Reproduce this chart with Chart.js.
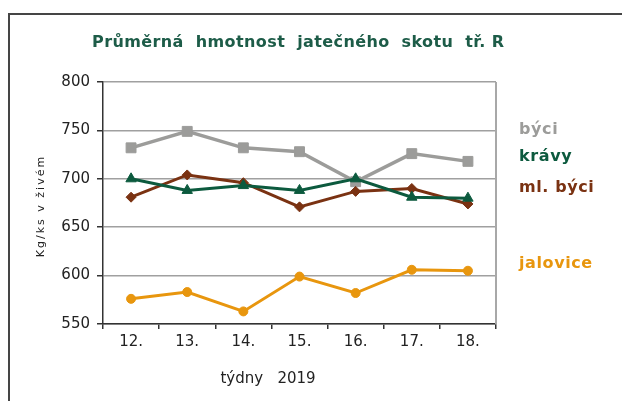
<!DOCTYPE html>
<html><head><meta charset="utf-8">
<script src="https://cdn.jsdelivr.net/npm/chart.js@4"></script>
<style>html,body{margin:0;padding:0;background:#fff}#w{width:622px;height:401px;position:relative}</style>
</head><body><div id="w"><canvas id="c" width="622" height="401"></canvas></div>
<script>
const weeks = ['12.', '13.', '14.', '15.', '16.', '17.', '18.'];
const byci = [732, 749, 732, 728, 697, 726, 718];
const kravy = [700, 688, 693, 688, 700, 681, 680];
const mlByci = [681, 704, 696, 671, 687, 690, 674];
const jalovice = [576, 583, 563, 599, 582, 606, 605];
const yMin = 550, yMax = 800, yStep = 50;
const titleText = 'Průměrná  hmotnost  jatečného  skotu  tř. R';
const yTitle = 'Kg/ks v živém';
const xTitle = 'týdny   2019';
const seriesNames = ['býci', 'krávy', 'ml. býci', 'jalovice'];

const C = {gray:'#9c9c9a', green:'#0c5a3e', brown:'#7a3212', orange:'#e8960e'};
const FONT = 'DejaVu Sans';

const decor = {
  id:'decor',
  beforeDraw(ch){
    const ctx = ch.ctx;
    ctx.save();
    ctx.strokeStyle = '#454545'; ctx.lineWidth = 2;
    ctx.beginPath(); ctx.moveTo(9, 401); ctx.lineTo(9, 14); ctx.lineTo(622, 14); ctx.stroke();
    ctx.restore();
  },
  afterDraw(ch){
    const ctx = ch.ctx, a = ch.chartArea;
    ctx.save();
    ctx.strokeStyle = '#a8a8a8'; ctx.lineWidth = 2;
    ctx.beginPath(); ctx.moveTo(a.right, a.top); ctx.lineTo(a.right, a.bottom); ctx.stroke();
    // title
    ctx.fillStyle = '#1d5c48';
    ctx.font = 'bold 16px "' + FONT + '"';
    ctx.letterSpacing = '0.4px';
    ctx.textAlign = 'left'; ctx.textBaseline = 'middle';
    ctx.fillText(titleText, 92, 43);
    // y title
    ctx.save();
    ctx.translate(41, 206); ctx.rotate(-Math.PI/2);
    ctx.font = '11px "' + FONT + '"'; ctx.fillStyle = '#222';
    ctx.letterSpacing = '2px';
    ctx.textAlign = 'center';
    ctx.fillText(yTitle, 0, 0);
    ctx.restore();
    // x title
    ctx.letterSpacing = '0px';
    ctx.font = '15px "' + FONT + '"'; ctx.fillStyle = '#222';
    ctx.textAlign = 'center';
    ctx.fillText(xTitle, 268, 379);
    // series labels
    const cols = [C.gray, C.green, C.brown, C.orange];
    const ys = [130, 157, 188, 264];
    ctx.font = 'bold 16px "' + FONT + '"';
    ctx.letterSpacing = '0.6px';
    ctx.textAlign = 'left';
    seriesNames.forEach((n,i)=>{ ctx.fillStyle = cols[i]; ctx.fillText(n, 519, ys[i]); });
    ctx.restore();
  }
};

new Chart(document.getElementById('c'), {
  type:'line',
  data:{
    labels: weeks,
    datasets:[
      {label:seriesNames[1], data:kravy, borderColor:C.green, backgroundColor:C.green, borderWidth:3, pointStyle:'triangle', pointRadius:6, pointBorderWidth:1},
      {label:seriesNames[2], data:mlByci, borderColor:C.brown, backgroundColor:C.brown, borderWidth:3, pointStyle:'rectRot', pointRadius:5, pointBorderWidth:1},
      {label:seriesNames[0], data:byci, borderColor:C.gray, backgroundColor:C.gray, borderWidth:3.5, pointStyle:'rect', pointRadius:7, pointBorderWidth:1},
      {label:seriesNames[3], data:jalovice, borderColor:C.orange, backgroundColor:C.orange, borderWidth:3, pointStyle:'circle', pointRadius:4.5, pointBorderWidth:1}
    ]
  },
  options:{
    responsive:false, animation:false, devicePixelRatio:1,
    layout:{padding:{left:0, top:82, right:126, bottom:47}},
    plugins:{legend:{display:false}, tooltip:{enabled:false}, title:{display:false}},
    elements:{line:{tension:0}},
    scales:{
      x:{
        offset:true,
        grid:{offset:true, drawOnChartArea:false, color:'#333', tickLength:5, lineWidth:1.5},
        border:{color:'#333', width:1.5},
        ticks:{font:{family:FONT, size:15}, color:'#222', padding:4},
        afterFit(s){ s.height = 30; }
      },
      y:{
        min:yMin, max:yMax,
        ticks:{stepSize:yStep, font:{family:FONT, size:15}, color:'#222', padding:7},
        grid:{color:'#a0a0a0', lineWidth:1.5, tickColor:'#333', tickLength:6},
        border:{color:'#333', width:1.5},
        afterFit(s){ s.width = 103; }
      }
    }
  },
  plugins:[decor]
});
</script></body></html>
